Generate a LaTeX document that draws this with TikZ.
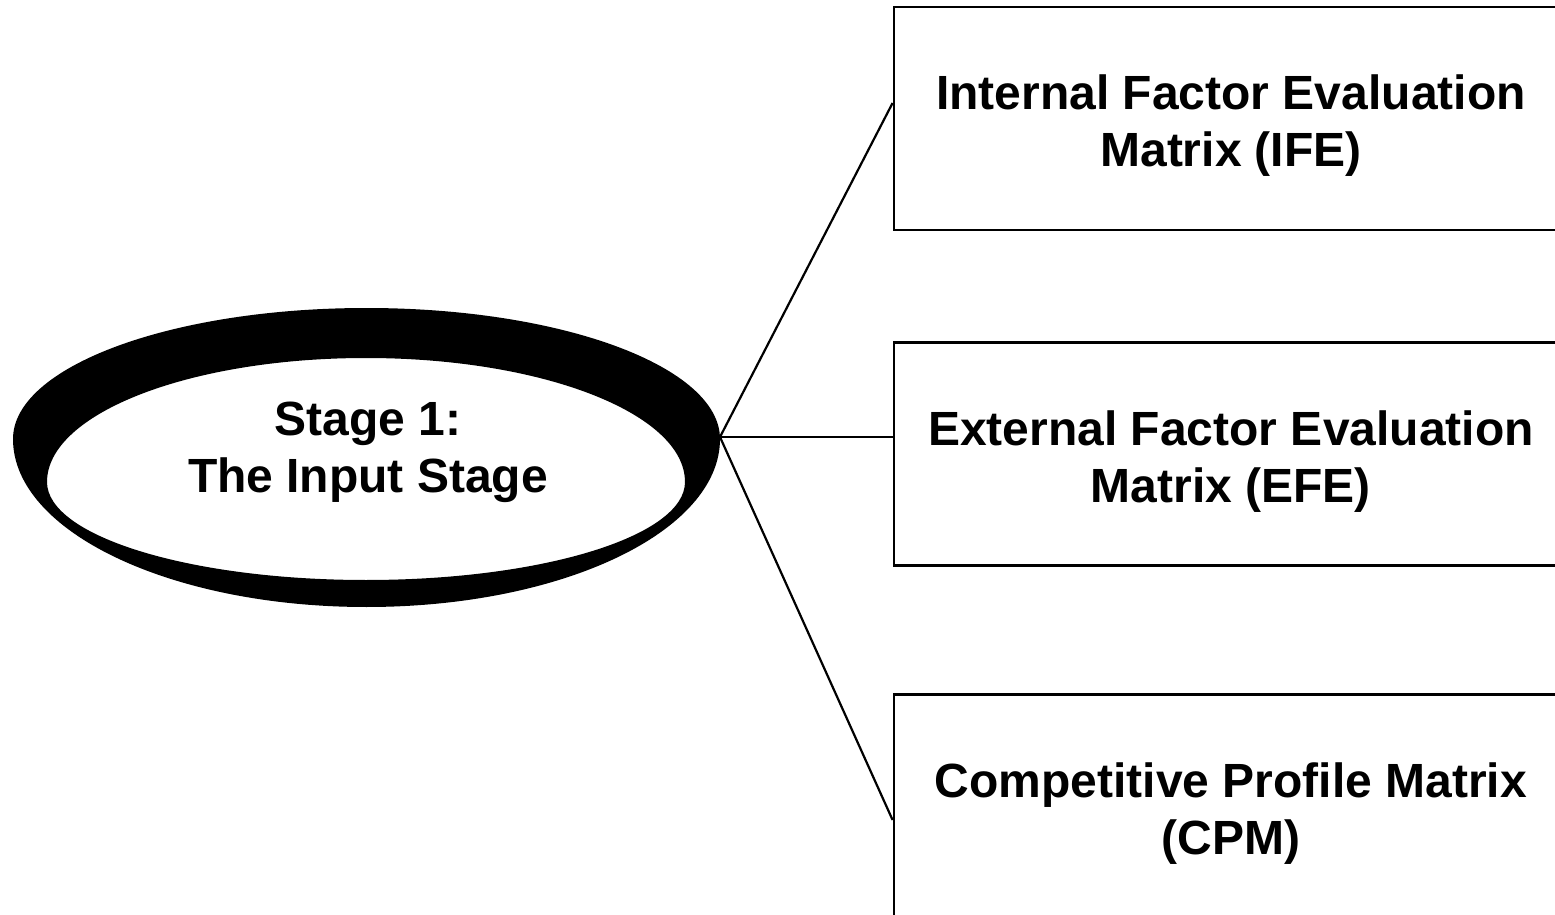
\documentclass[tikz,border=0pt]{standalone}
\usepackage{fontspec}
\setmainfont{Liberation Sans}
\usetikzlibrary{calc}
\begin{document}
\begin{tikzpicture}[x=0.5pt,y=-0.5pt,
  txt/.style={font=\bfseries\fontsize{24}{28.5}\selectfont, align=center},
  matbox/.style={txt, draw, line width=1.4pt, minimum width=337pt, minimum height=111.5pt, inner sep=0pt},
  link/.style={line width=1.1pt}]
\useasboundingbox (0,0) rectangle (1555,915);
\clip (0,0) rectangle (1555,915);
% ring (outer egg shape minus inner egg shape)
\fill[black, even odd rule]
  (720,439) arc[start angle=0, end angle=-180, x radius=353.5, y radius=131]
            arc[start angle=180, end angle=0, x radius=353.5, y radius=168] -- cycle
  (685,482) arc[start angle=0, end angle=-180, x radius=319, y radius=124]
            arc[start angle=180, end angle=0, x radius=319, y radius=98] -- cycle;
\node[txt] (stage) at (368,452) {Stage 1:\\The Input Stage};
\coordinate (hub) at (720,437);
% boxes
\node[matbox] (ife) at (1231,118.5) {\rule{0pt}{24.5pt}Internal Factor Evaluation\\Matrix (IFE)};
\node[matbox] (efe) at (1231,454) {\rule{0pt}{24.5pt}External Factor Evaluation\\Matrix (EFE)};
\node[matbox] (cpm) at (1231,806) {\rule{0pt}{24.5pt}Competitive Profile Matrix\\(CPM)};
% connectors
\draw[link] (hub) -- ($(ife.west)+(0,-15.5)$);
\draw[link] (hub) -- ($(efe.west)+(0,-17)$);
\draw[link] (hub) -- ($(cpm.west)+(0,14)$);
\end{tikzpicture}
\end{document}
